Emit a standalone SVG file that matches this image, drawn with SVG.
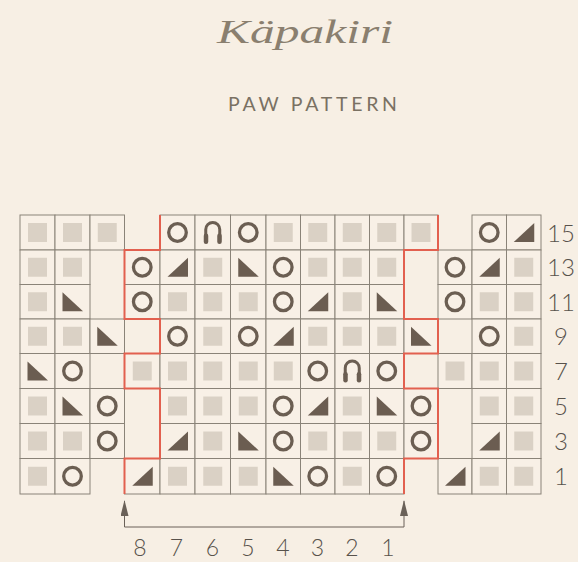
<svg xmlns="http://www.w3.org/2000/svg" width="578" height="562" viewBox="0 0 578 562">
<style>
.bg{fill:#f7efe4}
.cell rect.c{fill:#f8f0e6;stroke:#8a8378;stroke-width:1}
.g{fill:#dad1c5}
.o{fill:none;stroke:#6b5e52;stroke-width:3.3}
.t{fill:#6b5d51}
.n{fill:none;stroke:#6b5e52;stroke-width:3}
.nf{fill:#6b5e52}
.red{fill:none;stroke:#e2604f;stroke-width:2}
.br{fill:none;stroke:#6a6158;stroke-width:1}
.num{font-family:Lato,"Liberation Sans",sans-serif;font-weight:300;fill:#58524b}
.title{font-family:"Liberation Serif",serif;font-style:italic;fill:#8a7f6f}
.sub{font-family:Lato,"Liberation Sans",sans-serif;font-weight:400;fill:#7a7163}
</style>
<defs>
<rect id="G" x="-9.5" y="-9.5" width="19" height="19" class="g"/>
<circle id="O" r="8.8" class="o"/>
<polygon id="TR" points="-10,9.5 10.5,9.5 10.5,-9.5" class="t"/>
<polygon id="TL" points="-10,-9.5 -10,9.5 10.5,9.5" class="t"/>
<g id="N"><path d="M-7 8 V-3 A7 7 0 0 1 7 -3 V8" class="n"/><rect x="-9" y="1" width="4.5" height="10.5" rx="2.2" class="nf"/><rect x="4.5" y="1" width="4.5" height="10.5" rx="2.2" class="nf"/></g>
<marker id="arr" viewBox="0 0 16 8" refX="15" refY="4" markerWidth="16" markerHeight="8" markerUnits="userSpaceOnUse" orient="auto-start-reverse"><path d="M0 0 L16 4 L0 8 z" fill="#6a6158"/></marker>
</defs>
<rect class="bg" x="0" y="0" width="578" height="562"/>
<g id="title">
<text class="title" x="217" y="43" font-size="33" textLength="176" lengthAdjust="spacingAndGlyphs">Käpakiri</text>
<text class="sub" x="228" y="110.5" font-size="19.5" textLength="169" lengthAdjust="spacing">PAW PATTERN</text>
</g>
<g id="chart">
<!-- row 15 -->
<g id="r15-c1" class="cell"><rect class="c" x="20" y="215" width="35" height="35"/><use href="#G" x="37.5" y="232.5"/></g>
<g id="r15-c2" class="cell"><rect class="c" x="55" y="215" width="35" height="35"/><use href="#G" x="72.5" y="232.5"/></g>
<g id="r15-c3" class="cell"><rect class="c" x="90" y="215" width="34.5" height="35"/><use href="#G" x="107.25" y="232.5"/></g>
<g id="r15-c5" class="cell"><rect class="c" x="160" y="215" width="35" height="35"/><use href="#O" x="177.5" y="232.5"/></g>
<g id="r15-c6" class="cell"><rect class="c" x="195" y="215" width="35.5" height="35"/><use href="#N" x="212.75" y="232.5"/></g>
<g id="r15-c7" class="cell"><rect class="c" x="230.5" y="215" width="35.5" height="35"/><use href="#O" x="248.25" y="232.5"/></g>
<g id="r15-c8" class="cell"><rect class="c" x="266" y="215" width="34.5" height="35"/><use href="#G" x="283.25" y="232.5"/></g>
<g id="r15-c9" class="cell"><rect class="c" x="300.5" y="215" width="34.5" height="35"/><use href="#G" x="317.75" y="232.5"/></g>
<g id="r15-c10" class="cell"><rect class="c" x="335" y="215" width="34.5" height="35"/><use href="#G" x="352.25" y="232.5"/></g>
<g id="r15-c11" class="cell"><rect class="c" x="369.5" y="215" width="34.5" height="35"/><use href="#G" x="386.75" y="232.5"/></g>
<g id="r15-c12" class="cell"><rect class="c" x="404" y="215" width="34" height="35"/><use href="#G" x="421" y="232.5"/></g>
<g id="r15-c14" class="cell"><rect class="c" x="472" y="215" width="34.5" height="35"/><use href="#O" x="489.25" y="232.5"/></g>
<g id="r15-c15" class="cell"><rect class="c" x="506.5" y="215" width="34.5" height="35"/><use href="#TR" x="523.75" y="232.5"/></g>
<!-- row 13 -->
<g id="r13-c1" class="cell"><rect class="c" x="20" y="250" width="35" height="34.5"/><use href="#G" x="37.5" y="267.25"/></g>
<g id="r13-c2" class="cell"><rect class="c" x="55" y="250" width="35" height="34.5"/><use href="#G" x="72.5" y="267.25"/></g>
<g id="r13-c4" class="cell"><rect class="c" x="124.5" y="250" width="35.5" height="34.5"/><use href="#O" x="142.25" y="267.25"/></g>
<g id="r13-c5" class="cell"><rect class="c" x="160" y="250" width="35" height="34.5"/><use href="#TR" x="177.5" y="267.25"/></g>
<g id="r13-c6" class="cell"><rect class="c" x="195" y="250" width="35.5" height="34.5"/><use href="#G" x="212.75" y="267.25"/></g>
<g id="r13-c7" class="cell"><rect class="c" x="230.5" y="250" width="35.5" height="34.5"/><use href="#TL" x="248.25" y="267.25"/></g>
<g id="r13-c8" class="cell"><rect class="c" x="266" y="250" width="34.5" height="34.5"/><use href="#O" x="283.25" y="267.25"/></g>
<g id="r13-c9" class="cell"><rect class="c" x="300.5" y="250" width="34.5" height="34.5"/><use href="#G" x="317.75" y="267.25"/></g>
<g id="r13-c10" class="cell"><rect class="c" x="335" y="250" width="34.5" height="34.5"/><use href="#G" x="352.25" y="267.25"/></g>
<g id="r13-c11" class="cell"><rect class="c" x="369.5" y="250" width="34.5" height="34.5"/><use href="#G" x="386.75" y="267.25"/></g>
<g id="r13-c13" class="cell"><rect class="c" x="438" y="250" width="34" height="34.5"/><use href="#O" x="455" y="267.25"/></g>
<g id="r13-c14" class="cell"><rect class="c" x="472" y="250" width="34.5" height="34.5"/><use href="#TR" x="489.25" y="267.25"/></g>
<g id="r13-c15" class="cell"><rect class="c" x="506.5" y="250" width="34.5" height="34.5"/><use href="#G" x="523.75" y="267.25"/></g>
<!-- row 11 -->
<g id="r11-c1" class="cell"><rect class="c" x="20" y="284.5" width="35" height="34.5"/><use href="#G" x="37.5" y="301.75"/></g>
<g id="r11-c2" class="cell"><rect class="c" x="55" y="284.5" width="35" height="34.5"/><use href="#TL" x="72.5" y="301.75"/></g>
<g id="r11-c4" class="cell"><rect class="c" x="124.5" y="284.5" width="35.5" height="34.5"/><use href="#O" x="142.25" y="301.75"/></g>
<g id="r11-c5" class="cell"><rect class="c" x="160" y="284.5" width="35" height="34.5"/><use href="#G" x="177.5" y="301.75"/></g>
<g id="r11-c6" class="cell"><rect class="c" x="195" y="284.5" width="35.5" height="34.5"/><use href="#G" x="212.75" y="301.75"/></g>
<g id="r11-c7" class="cell"><rect class="c" x="230.5" y="284.5" width="35.5" height="34.5"/><use href="#G" x="248.25" y="301.75"/></g>
<g id="r11-c8" class="cell"><rect class="c" x="266" y="284.5" width="34.5" height="34.5"/><use href="#O" x="283.25" y="301.75"/></g>
<g id="r11-c9" class="cell"><rect class="c" x="300.5" y="284.5" width="34.5" height="34.5"/><use href="#TR" x="317.75" y="301.75"/></g>
<g id="r11-c10" class="cell"><rect class="c" x="335" y="284.5" width="34.5" height="34.5"/><use href="#G" x="352.25" y="301.75"/></g>
<g id="r11-c11" class="cell"><rect class="c" x="369.5" y="284.5" width="34.5" height="34.5"/><use href="#TL" x="386.75" y="301.75"/></g>
<g id="r11-c13" class="cell"><rect class="c" x="438" y="284.5" width="34" height="34.5"/><use href="#O" x="455" y="301.75"/></g>
<g id="r11-c14" class="cell"><rect class="c" x="472" y="284.5" width="34.5" height="34.5"/><use href="#G" x="489.25" y="301.75"/></g>
<g id="r11-c15" class="cell"><rect class="c" x="506.5" y="284.5" width="34.5" height="34.5"/><use href="#G" x="523.75" y="301.75"/></g>
<!-- row 9 -->
<g id="r9-c1" class="cell"><rect class="c" x="20" y="319" width="35" height="34.5"/><use href="#G" x="37.5" y="336.25"/></g>
<g id="r9-c2" class="cell"><rect class="c" x="55" y="319" width="35" height="34.5"/><use href="#G" x="72.5" y="336.25"/></g>
<g id="r9-c3" class="cell"><rect class="c" x="90" y="319" width="34.5" height="34.5"/><use href="#TL" x="107.25" y="336.25"/></g>
<g id="r9-c5" class="cell"><rect class="c" x="160" y="319" width="35" height="34.5"/><use href="#O" x="177.5" y="336.25"/></g>
<g id="r9-c6" class="cell"><rect class="c" x="195" y="319" width="35.5" height="34.5"/><use href="#G" x="212.75" y="336.25"/></g>
<g id="r9-c7" class="cell"><rect class="c" x="230.5" y="319" width="35.5" height="34.5"/><use href="#O" x="248.25" y="336.25"/></g>
<g id="r9-c8" class="cell"><rect class="c" x="266" y="319" width="34.5" height="34.5"/><use href="#TR" x="283.25" y="336.25"/></g>
<g id="r9-c9" class="cell"><rect class="c" x="300.5" y="319" width="34.5" height="34.5"/><use href="#G" x="317.75" y="336.25"/></g>
<g id="r9-c10" class="cell"><rect class="c" x="335" y="319" width="34.5" height="34.5"/><use href="#G" x="352.25" y="336.25"/></g>
<g id="r9-c11" class="cell"><rect class="c" x="369.5" y="319" width="34.5" height="34.5"/><use href="#G" x="386.75" y="336.25"/></g>
<g id="r9-c12" class="cell"><rect class="c" x="404" y="319" width="34" height="34.5"/><use href="#TL" x="421" y="336.25"/></g>
<g id="r9-c14" class="cell"><rect class="c" x="472" y="319" width="34.5" height="34.5"/><use href="#O" x="489.25" y="336.25"/></g>
<g id="r9-c15" class="cell"><rect class="c" x="506.5" y="319" width="34.5" height="34.5"/><use href="#G" x="523.75" y="336.25"/></g>
<!-- row 7 -->
<g id="r7-c1" class="cell"><rect class="c" x="20" y="353.5" width="35" height="35"/><use href="#TL" x="37.5" y="371"/></g>
<g id="r7-c2" class="cell"><rect class="c" x="55" y="353.5" width="35" height="35"/><use href="#O" x="72.5" y="371"/></g>
<g id="r7-c4" class="cell"><rect class="c" x="124.5" y="353.5" width="35.5" height="35"/><use href="#G" x="142.25" y="371"/></g>
<g id="r7-c5" class="cell"><rect class="c" x="160" y="353.5" width="35" height="35"/><use href="#G" x="177.5" y="371"/></g>
<g id="r7-c6" class="cell"><rect class="c" x="195" y="353.5" width="35.5" height="35"/><use href="#G" x="212.75" y="371"/></g>
<g id="r7-c7" class="cell"><rect class="c" x="230.5" y="353.5" width="35.5" height="35"/><use href="#G" x="248.25" y="371"/></g>
<g id="r7-c8" class="cell"><rect class="c" x="266" y="353.5" width="34.5" height="35"/><use href="#G" x="283.25" y="371"/></g>
<g id="r7-c9" class="cell"><rect class="c" x="300.5" y="353.5" width="34.5" height="35"/><use href="#O" x="317.75" y="371"/></g>
<g id="r7-c10" class="cell"><rect class="c" x="335" y="353.5" width="34.5" height="35"/><use href="#N" x="352.25" y="371"/></g>
<g id="r7-c11" class="cell"><rect class="c" x="369.5" y="353.5" width="34.5" height="35"/><use href="#O" x="386.75" y="371"/></g>
<g id="r7-c13" class="cell"><rect class="c" x="438" y="353.5" width="34" height="35"/><use href="#G" x="455" y="371"/></g>
<g id="r7-c14" class="cell"><rect class="c" x="472" y="353.5" width="34.5" height="35"/><use href="#G" x="489.25" y="371"/></g>
<g id="r7-c15" class="cell"><rect class="c" x="506.5" y="353.5" width="34.5" height="35"/><use href="#G" x="523.75" y="371"/></g>
<!-- row 5 -->
<g id="r5-c1" class="cell"><rect class="c" x="20" y="388.5" width="35" height="35"/><use href="#G" x="37.5" y="406"/></g>
<g id="r5-c2" class="cell"><rect class="c" x="55" y="388.5" width="35" height="35"/><use href="#TL" x="72.5" y="406"/></g>
<g id="r5-c3" class="cell"><rect class="c" x="90" y="388.5" width="34.5" height="35"/><use href="#O" x="107.25" y="406"/></g>
<g id="r5-c5" class="cell"><rect class="c" x="160" y="388.5" width="35" height="35"/><use href="#G" x="177.5" y="406"/></g>
<g id="r5-c6" class="cell"><rect class="c" x="195" y="388.5" width="35.5" height="35"/><use href="#G" x="212.75" y="406"/></g>
<g id="r5-c7" class="cell"><rect class="c" x="230.5" y="388.5" width="35.5" height="35"/><use href="#G" x="248.25" y="406"/></g>
<g id="r5-c8" class="cell"><rect class="c" x="266" y="388.5" width="34.5" height="35"/><use href="#O" x="283.25" y="406"/></g>
<g id="r5-c9" class="cell"><rect class="c" x="300.5" y="388.5" width="34.5" height="35"/><use href="#TR" x="317.75" y="406"/></g>
<g id="r5-c10" class="cell"><rect class="c" x="335" y="388.5" width="34.5" height="35"/><use href="#G" x="352.25" y="406"/></g>
<g id="r5-c11" class="cell"><rect class="c" x="369.5" y="388.5" width="34.5" height="35"/><use href="#TL" x="386.75" y="406"/></g>
<g id="r5-c12" class="cell"><rect class="c" x="404" y="388.5" width="34" height="35"/><use href="#O" x="421" y="406"/></g>
<g id="r5-c14" class="cell"><rect class="c" x="472" y="388.5" width="34.5" height="35"/><use href="#G" x="489.25" y="406"/></g>
<g id="r5-c15" class="cell"><rect class="c" x="506.5" y="388.5" width="34.5" height="35"/><use href="#G" x="523.75" y="406"/></g>
<!-- row 3 -->
<g id="r3-c1" class="cell"><rect class="c" x="20" y="423.5" width="35" height="35"/><use href="#G" x="37.5" y="441"/></g>
<g id="r3-c2" class="cell"><rect class="c" x="55" y="423.5" width="35" height="35"/><use href="#G" x="72.5" y="441"/></g>
<g id="r3-c3" class="cell"><rect class="c" x="90" y="423.5" width="34.5" height="35"/><use href="#O" x="107.25" y="441"/></g>
<g id="r3-c5" class="cell"><rect class="c" x="160" y="423.5" width="35" height="35"/><use href="#TR" x="177.5" y="441"/></g>
<g id="r3-c6" class="cell"><rect class="c" x="195" y="423.5" width="35.5" height="35"/><use href="#G" x="212.75" y="441"/></g>
<g id="r3-c7" class="cell"><rect class="c" x="230.5" y="423.5" width="35.5" height="35"/><use href="#TL" x="248.25" y="441"/></g>
<g id="r3-c8" class="cell"><rect class="c" x="266" y="423.5" width="34.5" height="35"/><use href="#O" x="283.25" y="441"/></g>
<g id="r3-c9" class="cell"><rect class="c" x="300.5" y="423.5" width="34.5" height="35"/><use href="#G" x="317.75" y="441"/></g>
<g id="r3-c10" class="cell"><rect class="c" x="335" y="423.5" width="34.5" height="35"/><use href="#G" x="352.25" y="441"/></g>
<g id="r3-c11" class="cell"><rect class="c" x="369.5" y="423.5" width="34.5" height="35"/><use href="#G" x="386.75" y="441"/></g>
<g id="r3-c12" class="cell"><rect class="c" x="404" y="423.5" width="34" height="35"/><use href="#O" x="421" y="441"/></g>
<g id="r3-c14" class="cell"><rect class="c" x="472" y="423.5" width="34.5" height="35"/><use href="#TR" x="489.25" y="441"/></g>
<g id="r3-c15" class="cell"><rect class="c" x="506.5" y="423.5" width="34.5" height="35"/><use href="#G" x="523.75" y="441"/></g>
<!-- row 1 -->
<g id="r1-c1" class="cell"><rect class="c" x="20" y="458.5" width="35" height="35.5"/><use href="#G" x="37.5" y="476.25"/></g>
<g id="r1-c2" class="cell"><rect class="c" x="55" y="458.5" width="35" height="35.5"/><use href="#O" x="72.5" y="476.25"/></g>
<g id="r1-c4" class="cell"><rect class="c" x="124.5" y="458.5" width="35.5" height="35.5"/><use href="#TR" x="142.25" y="476.25"/></g>
<g id="r1-c5" class="cell"><rect class="c" x="160" y="458.5" width="35" height="35.5"/><use href="#G" x="177.5" y="476.25"/></g>
<g id="r1-c6" class="cell"><rect class="c" x="195" y="458.5" width="35.5" height="35.5"/><use href="#G" x="212.75" y="476.25"/></g>
<g id="r1-c7" class="cell"><rect class="c" x="230.5" y="458.5" width="35.5" height="35.5"/><use href="#G" x="248.25" y="476.25"/></g>
<g id="r1-c8" class="cell"><rect class="c" x="266" y="458.5" width="34.5" height="35.5"/><use href="#TL" x="283.25" y="476.25"/></g>
<g id="r1-c9" class="cell"><rect class="c" x="300.5" y="458.5" width="34.5" height="35.5"/><use href="#O" x="317.75" y="476.25"/></g>
<g id="r1-c10" class="cell"><rect class="c" x="335" y="458.5" width="34.5" height="35.5"/><use href="#G" x="352.25" y="476.25"/></g>
<g id="r1-c11" class="cell"><rect class="c" x="369.5" y="458.5" width="34.5" height="35.5"/><use href="#O" x="386.75" y="476.25"/></g>
<g id="r1-c13" class="cell"><rect class="c" x="438" y="458.5" width="34" height="35.5"/><use href="#TR" x="455" y="476.25"/></g>
<g id="r1-c14" class="cell"><rect class="c" x="472" y="458.5" width="34.5" height="35.5"/><use href="#G" x="489.25" y="476.25"/></g>
<g id="r1-c15" class="cell"><rect class="c" x="506.5" y="458.5" width="34.5" height="35.5"/><use href="#G" x="523.75" y="476.25"/></g>
</g>
<g id="connectors">
<path class="red" d="M160 215 V250 H124.5 V319 H160 V353.5 H124.5 V388.5 H160 V458.5 H124.5 V494"/>
<path class="red" d="M438 215 V250 H404 V319 H438 V353.5 H404 V388.5 H438 V458.5 H404 V494"/>
<path class="br" d="M124.5 501 V527 H404 V501" marker-start="url(#arr)" marker-end="url(#arr)"/>
</g>
<g id="row-labels" class="num" font-size="24" text-anchor="middle">
<text x="561" y="241.5">15</text>
<text x="561" y="276.25">13</text>
<text x="561" y="310.75">11</text>
<text x="561" y="345.25">9</text>
<text x="561" y="380">7</text>
<text x="561" y="415">5</text>
<text x="561" y="450">3</text>
<text x="561" y="485.25">1</text>
</g>
<g id="col-labels" class="num" font-size="23" text-anchor="middle">
<text x="140" y="556">8</text>
<text x="176.5" y="556">7</text>
<text x="212.5" y="556">6</text>
<text x="248" y="556">5</text>
<text x="283" y="556">4</text>
<text x="317.5" y="556">3</text>
<text x="352" y="556">2</text>
<text x="388" y="556">1</text>
</g>
</svg>
